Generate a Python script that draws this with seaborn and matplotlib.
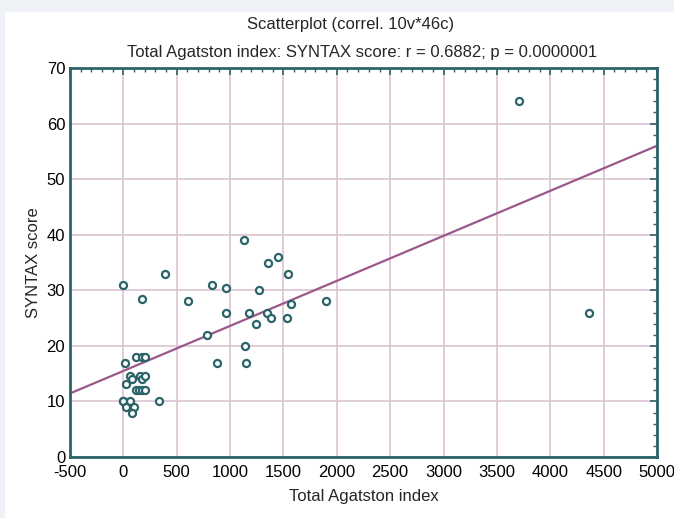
import matplotlib
matplotlib.use("Agg")
import matplotlib.pyplot as plt
from matplotlib.ticker import MultipleLocator
from matplotlib.patches import Rectangle
import seaborn as sns
import pandas as pd

agatston = [0, 62, 84, 24, 156, 174, 205, 115, 146, 174, 205, 0, 62, 337, 24, 99, 78,
            12, 115, 177, 205, 171, 0,
            390, 1130, 1452, 1358, 1540, 827, 962, 1274, 609, 1899, 1571, 962, 1180,
            1343, 1381, 1531, 1246, 781, 1143, 874, 1149, 3707, 4363]
syntax = [10, 14.6, 14, 13.1, 14.6, 14, 14.6, 12, 12, 12, 12, 10.1, 10.1, 10, 9, 9, 8,
          17, 18, 18, 18, 28.4, 31,
          33, 39, 36, 35, 33, 31, 30.5, 30, 28, 28, 27.5, 26, 26,
          26, 25, 25, 24, 22, 20, 17, 17, 64, 26]

title1 = "Scatterplot (correl. 10v*46c)"
title2 = "Total Agatston index: SYNTAX score: r = 0.6882; p = 0.0000001"
xlabel = "Total Agatston index"
ylabel = "SYNTAX score"

df = pd.DataFrame({"x": agatston, "y": syntax})

sns.set_style("white")
plt.rcParams['font.family'] = ['Liberation Sans Narrow', 'Liberation Sans', 'DejaVu Sans']
plt.rcParams['axes.unicode_minus'] = False

teal = "#2b6468"
purple = "#9a5889"
gridc = "#dcc3d2"

fig = plt.figure(figsize=(6.74, 5.18), dpi=100)
fig.patch.set_facecolor("#eef2f6")
fig.patches.append(Rectangle((5/674, 0), 1, 1 - 12/518, transform=fig.transFigure,
                             facecolor="white", edgecolor="none", zorder=-10))
ax = fig.add_axes([70/674, 1 - 457/518, 587/674, 389/518])
ax.set_xlim(-500, 5000)
ax.set_ylim(0, 70)
ax.xaxis.set_major_locator(MultipleLocator(500))
ax.xaxis.set_minor_locator(MultipleLocator(100))
ax.yaxis.set_major_locator(MultipleLocator(10))
ax.yaxis.set_minor_locator(MultipleLocator(2))
ax.grid(True, which="major", color=gridc, linewidth=1.2)
ax.set_axisbelow(True)

sns.regplot(data=df, x="x", y="y", scatter=False, ci=None, truncate=False, ax=ax,
            line_kws=dict(color=purple, linewidth=1.6))
sns.scatterplot(data=df, x="x", y="y", ax=ax, s=26, marker="o", facecolor="white",
                edgecolor=teal, linewidth=1.6, zorder=5)
ax.set_xlim(-500, 5000)
ax.set_ylim(0, 70)

for s in ax.spines.values():
    s.set_color(teal)
    s.set_linewidth(2)
ax.tick_params(which="both", direction="in", top=True, right=True, color=teal,
               labelsize=12, labelcolor="black")
ax.tick_params(which="major", length=5, width=1.2)
ax.tick_params(which="minor", length=3, width=1)
ax.tick_params(axis="x", pad=6)
ax.set_xlabel(xlabel, fontsize=12, labelpad=6)
ax.set_ylabel(ylabel, fontsize=12, labelpad=4)
fig.text(351/674, 1 - 25/518, title1, ha="center", va="center", fontsize=12)
fig.text(362/674, 1 - 52/518, title2, ha="center", va="center", fontsize=12)

fig.savefig("out.png", dpi=100, facecolor=fig.get_facecolor())
